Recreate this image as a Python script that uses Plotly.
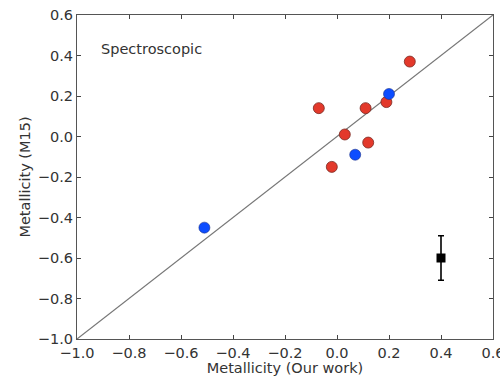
import plotly.graph_objects as go

red_x = [0.28, 0.19, -0.07, 0.11, 0.03, 0.12, -0.02]
red_y = [0.37, 0.17, 0.14, 0.14, 0.01, -0.03, -0.15]
blue_x = [0.20, 0.07, -0.51]
blue_y = [0.21, -0.09, -0.45]
err_x = [0.40]
err_y = [-0.60]
err_size = [0.11]
line_x = [-1.0, 0.6]
line_y = [-1.0, 0.6]
tick_vals = [-1.0, -0.8, -0.6, -0.4, -0.2, 0.0, 0.2, 0.4, 0.6]

fig = go.Figure()
fig.add_trace(go.Scatter(x=line_x, y=line_y, mode="lines",
                         line=dict(color="#777777", width=1.2), hoverinfo="skip"))
fig.add_trace(go.Scatter(x=red_x, y=red_y, mode="markers",
                         marker=dict(size=11, color="#e3392b",
                                     line=dict(color="#7a2a22", width=0.8))))
fig.add_trace(go.Scatter(x=blue_x, y=blue_y, mode="markers",
                         marker=dict(size=11, color="#0d4dff",
                                     line=dict(color="#1a2f8a", width=0.6))))
fig.add_trace(go.Scatter(x=err_x, y=err_y, mode="markers",
                         marker=dict(symbol="square", size=9, color="black"),
                         error_y=dict(type="data", array=err_size, color="black",
                                      thickness=1.6, width=3)))

font = "DejaVu Sans, sans-serif"
fs = 14.5
axis_common = dict(range=[-1.0, 0.6], tickvals=tick_vals, tickformat=".1f",
                   ticks="inside", ticklen=4, tickwidth=1, tickcolor="#444",
                   showline=True, linecolor="#555", linewidth=1.2, mirror="ticks",
                   showgrid=False, zeroline=False, ticklabeloverflow="allow",
                   tickfont=dict(family=font, size=fs, color="#333"))

fig.update_layout(
    width=500, height=379,
    margin=dict(l=77, r=7, t=15, b=40, autoexpand=False),
    paper_bgcolor="white", plot_bgcolor="white",
    showlegend=False,
    xaxis=dict(**axis_common,
               title=dict(text="Metallicity (Our work)", standoff=2,
                          font=dict(family=font, size=fs, color="#333"))),
    yaxis=dict(**axis_common,
               title=dict(text="Metallicity (M15)", standoff=3,
                          font=dict(family=font, size=fs, color="#333"))),
    annotations=[dict(x=-0.915, y=0.43, xref="x", yref="y", text="Spectroscopic",
                      showarrow=False, xanchor="left", yanchor="middle",
                      font=dict(family=font, size=fs, color="#333"))],
)

fig.write_html("out.html")
